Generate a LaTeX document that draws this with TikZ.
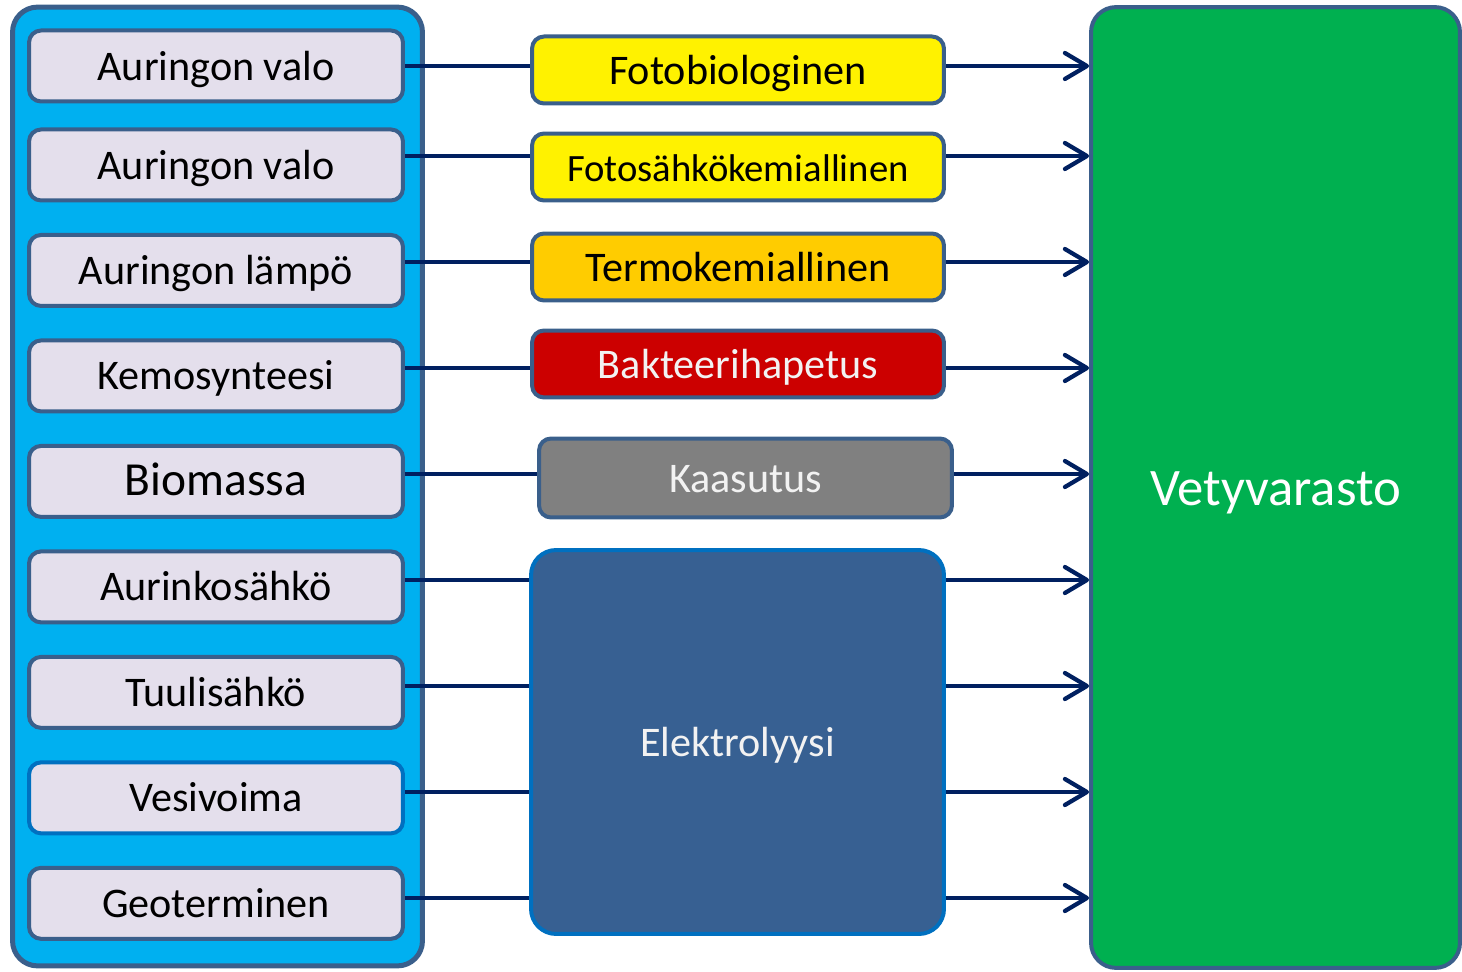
\documentclass[tikz,border=0pt]{standalone}
\usepackage{fontspec}
\setmainfont{Carlito}
\usepackage{xcolor}
\usepackage{tikz}
\usetikzlibrary{arrows.meta,positioning}
\definecolor{skyfill}{HTML}{00B0F0}
\definecolor{edgeblue}{HTML}{3A5F8B}
\definecolor{lavender}{HTML}{E4DFEC}
\definecolor{navy}{HTML}{002060}
\definecolor{gold}{HTML}{FFCC00}
\definecolor{darkred}{HTML}{CC0000}
\definecolor{slate}{HTML}{376092}
\definecolor{brightblue}{HTML}{0070C0}
\definecolor{storegreen}{HTML}{00B050}
\definecolor{paletext}{HTML}{F2F2F2}
\tikzset{
  panel/.style={rectangle, draw=edgeblue, line width=0.1cm, rounded corners=0.5cm, fill=skyfill,
                minimum width=8.2cm, minimum height=19.18cm},
  src/.style={rectangle, draw=edgeblue, line width=0.08cm, rounded corners=0.24cm, fill=lavender,
              minimum width=7.48cm, minimum height=1.42cm, inner sep=0pt,
              text height=16pt, text depth=0pt, font=\fontsize{24}{28}\selectfont},
  proc/.style={rectangle, draw=edgeblue, line width=0.08cm, rounded corners=0.24cm,
               minimum width=8.24cm, minimum height=1.34cm, inner sep=0pt,
               text height=16pt, text depth=0pt, font=\fontsize{24}{28}\selectfont},
  store/.style={rectangle, draw=edgeblue, line width=0.08cm, rounded corners=0.5cm, fill=storegreen,
                minimum width=7.38cm, minimum height=19.22cm, text=white,
                text height=20pt, text depth=0pt, font=\fontsize{30}{36}\selectfont},
  link/.style={line width=0.085cm, navy},
  arr/.style={-{Straight Barb[length=0.44cm, width=0.52cm, round]}, line width=0.085cm, navy}
}
\begin{document}
\begin{tikzpicture}[x=0.02cm, y=-0.02cm, node distance=0.61cm]
  \useasboundingbox (0,0) rectangle (1462,972);
  \node[panel] (bank) at (217.5,486.5) {};
  \node[src] (s1) at (216,66) {Auringon valo};
  \node[src, below=0.48cm of s1] (s2) {Auringon valo};
  \node[src, below=of s2] (s3) {Auringon lämpö};
  \node[src, below=of s3] (s4) {Kemosynteesi};
  \node[src, below=of s4, font=\fontsize{27}{32}\selectfont] (s5) {Biomassa};
  \node[src, below=of s5] (s6) {Aurinkosähkö};
  \node[src, below=of s6] (s7) {Tuulisähkö};
  \node[src, below=of s7, draw=brightblue] (s8) {Vesivoima};
  \node[src, below=of s8] (s9) {Geoterminen};

  \node[proc, fill=yellow] (m1) at (738,70) {Fotobiologinen};
  \node[proc, fill=yellow, font=\fontsize{22}{26}\selectfont] (m2) at (738,167) {Fotosähkökemiallinen};
  \node[proc, fill=gold] (m3) at (738,267) {Termokemiallinen};
  \node[proc, fill=darkred, text=paletext] (m4) at (738,364) {Bakteerihapetus};
  \node[proc, fill=gray, text=paletext, minimum width=8.26cm, minimum height=1.58cm] (m5) at (745.5,478) {Kaasutus};
  \node[proc, fill=slate, draw=brightblue, text=paletext, rounded corners=0.5cm,
        minimum width=8.26cm, minimum height=7.68cm] (el) at (737.5,742) {Elektrolyysi};

  \node[store] (store) at (1275.5,487.5) {Vetyvarasto};

  \foreach \i/\y/\m in {1/66/m1, 2/156/m2, 3/262/m3, 4/368/m4, 5/474/m5,
                        6/580/el, 7/686/el, 8/792/el, 9/898/el} {
    \coordinate (h\i) at (store.west |- 0,\y);
    \draw[link] (s\i.east |- h\i) -- (\m.west |- h\i);
    \draw[arr] (\m.east |- h\i) -- (h\i);
  }
\end{tikzpicture}
\end{document}
